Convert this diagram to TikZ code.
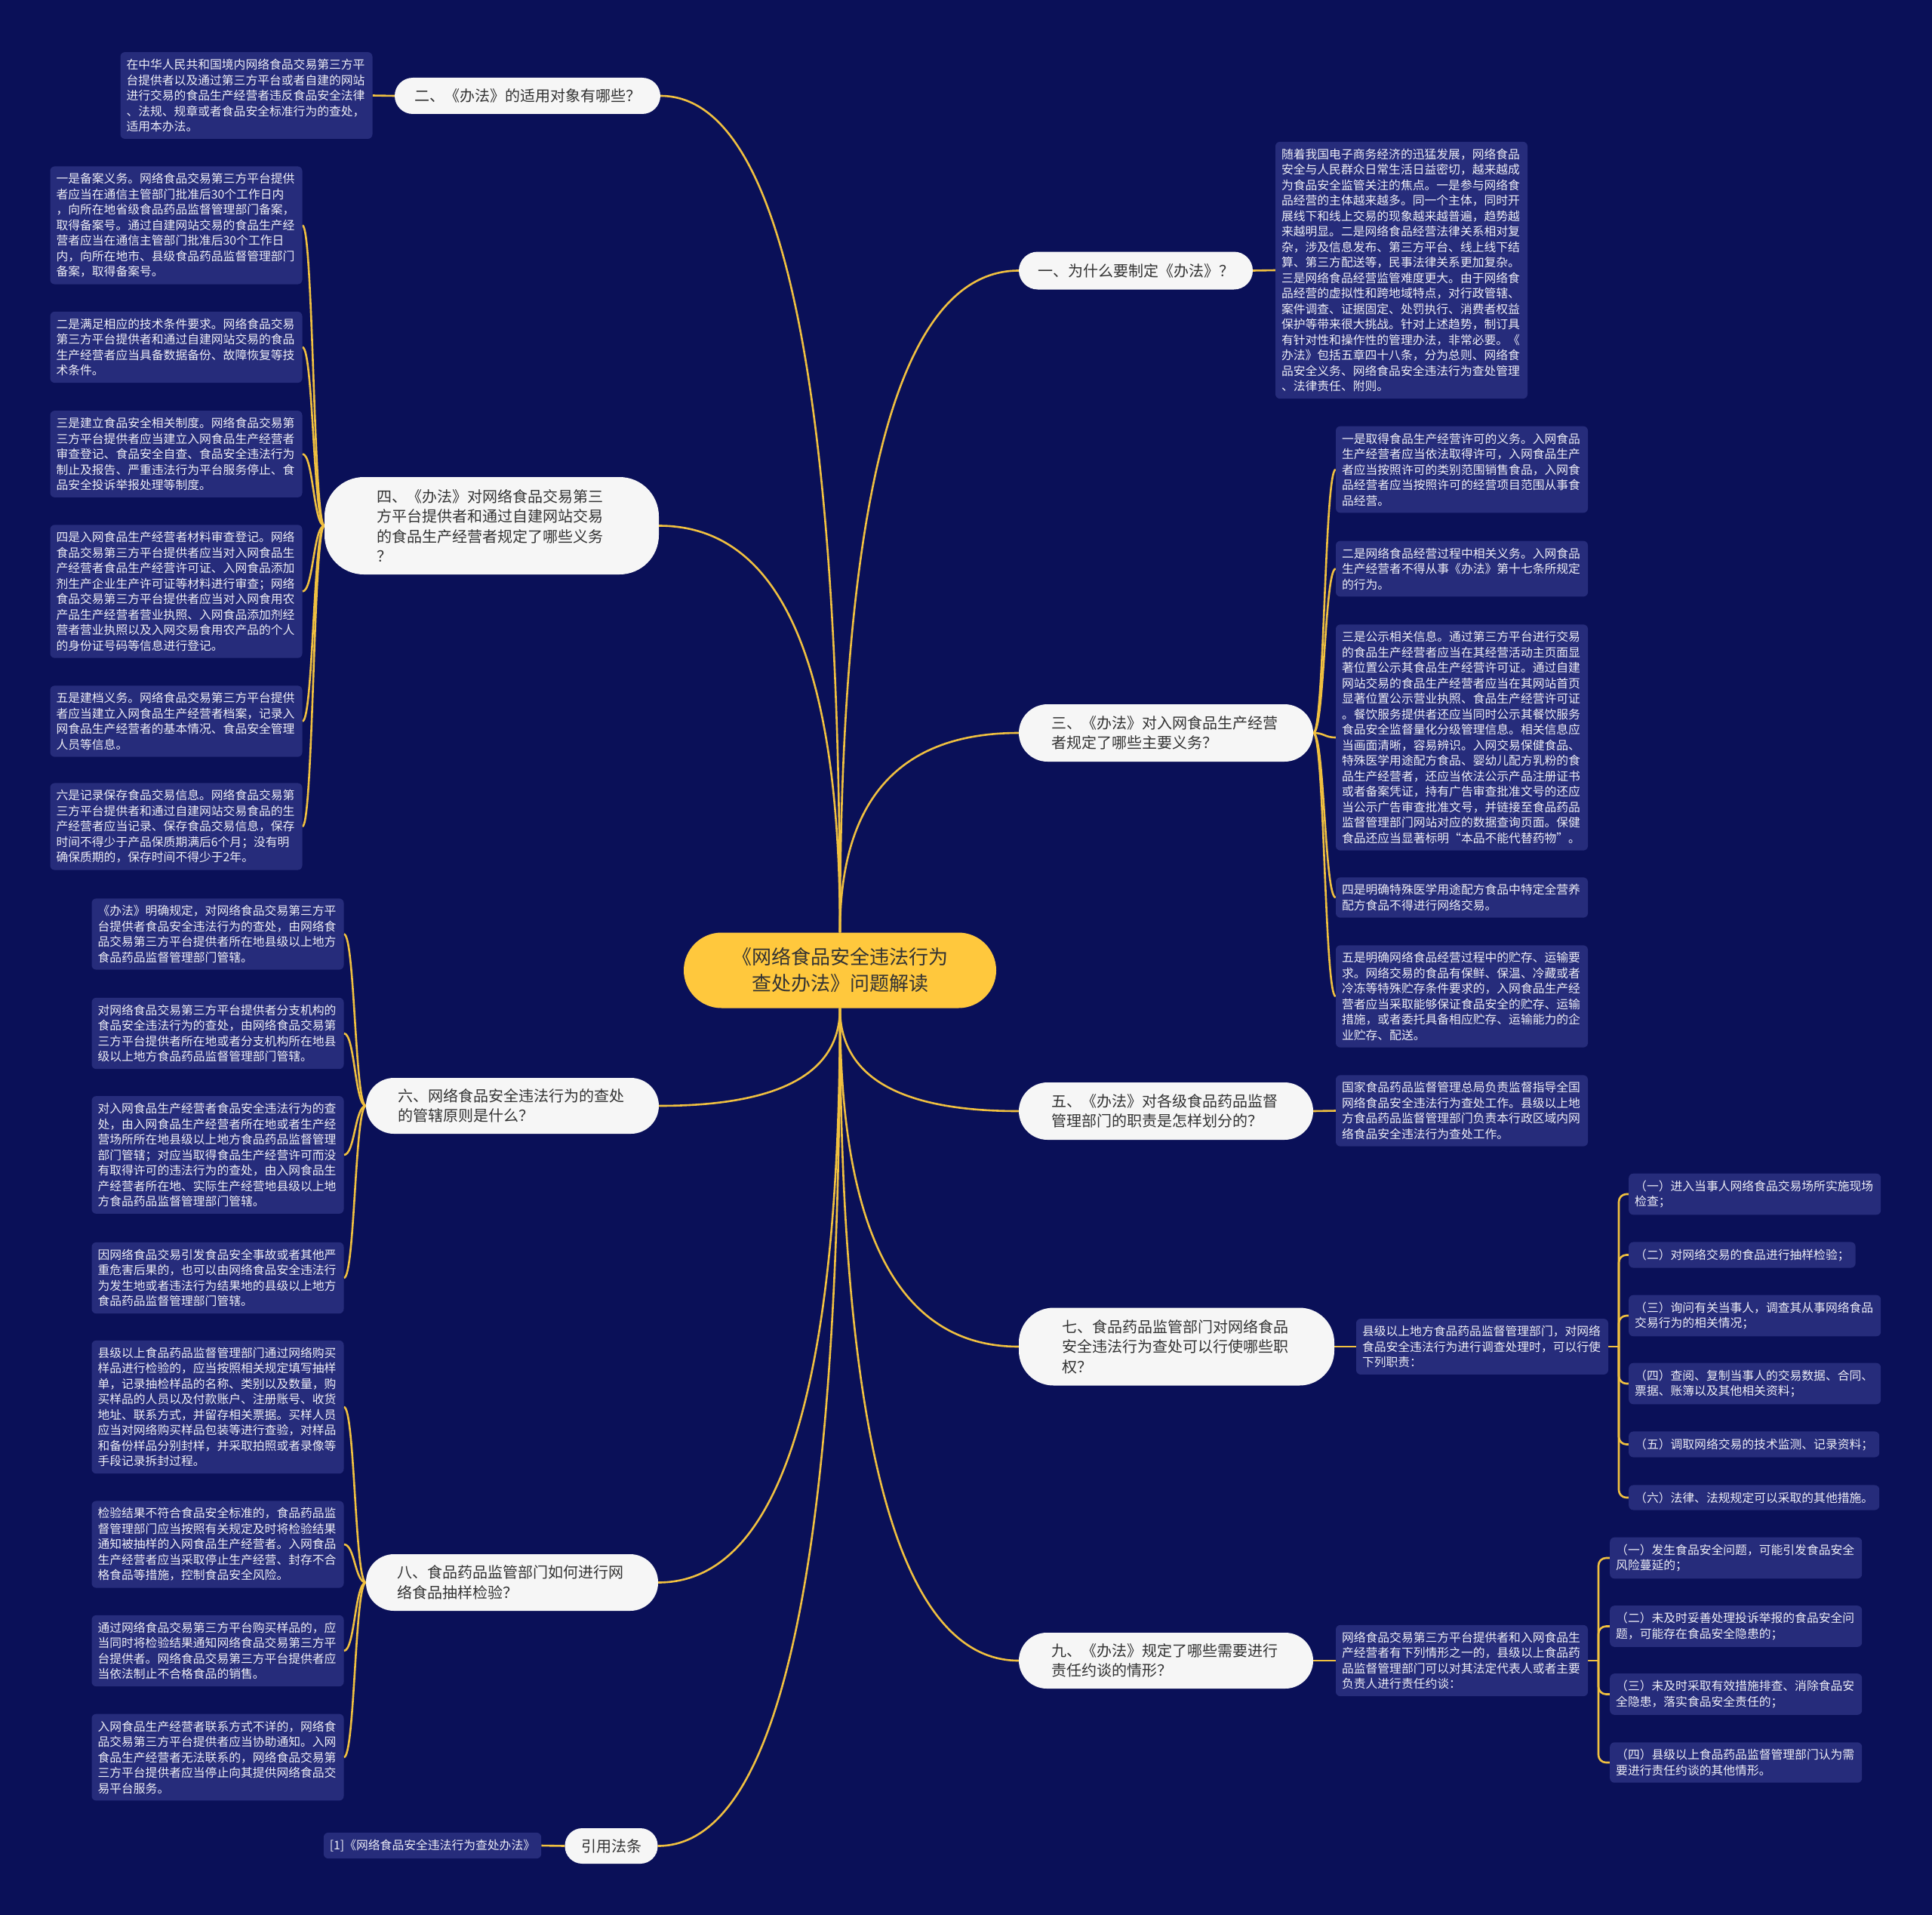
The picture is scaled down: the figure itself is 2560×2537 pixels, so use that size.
\documentclass[tikz,border=0pt]{standalone}
\usepackage{fontspec}
\setmainfont{Noto Sans CJK SC}
\usetikzlibrary{calc}
\definecolor{bgc}{HTML}{0A1058}
\definecolor{leafc}{HTML}{262C7B}
\definecolor{linec}{HTML}{F0C040}
\definecolor{pillc}{HTML}{F6F6F6}
\definecolor{pilltext}{HTML}{333333}
\definecolor{centerc}{HTML}{FFC83D}
\definecolor{leaftext}{HTML}{EEEEF6}
\pgfdeclarelayer{back}
\pgfdeclarelayer{edges}
\pgfsetlayers{back,edges,main}
\newcommand\qlink[2]{\draw[link] (#1) .. controls ($(#1)!0.667!(#1|-#2)$) and ($(#2)!0.667!(#1|-#2)$) .. (#2);}
\newcommand\slink[2]{\draw[link] (#1) .. controls ($(#1)!0.5!(#1-|#2)$) and ($(#2)!0.5!(#2-|#1)$) .. (#2);}
\newcommand\blink[2]{\draw[link,rounded corners=10pt] (#1) |- (#2);}
\tikzset{
 link/.style={draw=linec, line width=2.6pt},
 leaf/.style={fill=leafc, rounded corners=6pt, text=leaftext, align=left, inner xsep=8pt, inner ysep=9pt, font=\fontsize{15.8}{20.5}\selectfont},
 wleaf/.style={leaf, text width=318pt},
 pill/.style={fill=pillc, text=pilltext, align=left, inner sep=0pt, font=\fontsize{20}{26.5}\selectfont},
 mpill/.style={pill, text width=304pt},
 root/.style={fill=centerc, text=pilltext, align=center, inner sep=0pt, minimum width=414pt, minimum height=100pt, rounded corners=50pt, font=\fontsize{26}{35}\selectfont},
}
\begin{document}
\begin{tikzpicture}[x=1pt,y=-1pt]
\begin{pgfonlayer}{back}
\fill[bgc] (0,0) rectangle (2560,2537);
\end{pgfonlayer}
\useasboundingbox (0,0) rectangle (2560,2537);

% center
\node[root] (c) at (1113,1285.5) {《网络食品安全违法行为\\查处办法》问题解读};

% topics
\node[pill, minimum width=352pt, minimum height=48pt, rounded corners=24pt] (t2) at (699,127) {二、《办法》的适用对象有哪些？};
\node[pill, minimum width=310pt, minimum height=50pt, rounded corners=25pt] (t1) at (1505,358.5) {一、为什么要制定《办法》？};
\node[mpill, minimum width=443pt, minimum height=129pt, rounded corners=52pt] (t4) at (651.5,696.5) {四、《办法》对网络食品交易第三\\方平台提供者和通过自建网站交易\\的食品生产经营者规定了哪些义务\\？};
\node[mpill, minimum width=390pt, minimum height=76pt, rounded corners=38pt] (t3) at (1545,971) {三、《办法》对入网食品生产经营\\者规定了哪些主要义务？};
\node[mpill, minimum width=388pt, minimum height=74pt, rounded corners=37pt] (t6) at (679,1465) {六、网络食品安全违法行为的查处\\的管辖原则是什么？};
\node[mpill, minimum width=390pt, minimum height=76pt, rounded corners=38pt] (t5) at (1545,1472) {五、《办法》对各级食品药品监督\\管理部门的职责是怎样划分的？};
\node[mpill, minimum width=418pt, minimum height=103pt, rounded corners=46pt] (t7) at (1559,1784) {七、食品药品监管部门对网络食品\\安全违法行为查处可以行使哪些职\\权？};
\node[mpill, minimum width=387pt, minimum height=75pt, rounded corners=37pt] (t8) at (678.5,2096.5) {八、食品药品监管部门如何进行网\\络食品抽样检验？};
\node[mpill, minimum width=390pt, minimum height=74pt, rounded corners=37pt] (t9) at (1545,2200) {九、《办法》规定了哪些需要进行\\责任约谈的情形？};
\node[pill, minimum width=123pt, minimum height=47pt, rounded corners=23pt] (tr) at (810,2445.5) {引用法条};

% leaves of 二 and 一
\node[wleaf] (l2) at (326.5,126.5) {在中华人民共和国境内网络食品交易第三方平\\台提供者以及通过第三方平台或者自建的网站\\进行交易的食品生产经营者违反食品安全法律\\、法规、规章或者食品安全标准行为的查处，\\适用本办法。};
\node[wleaf] (l1) at (1857,358) {随着我国电子商务经济的迅猛发展，网络食品\\安全与人民群众日常生活日益密切，越来越成\\为食品安全监管关注的焦点。一是参与网络食\\品经营的主体越来越多。同一个主体，同时开\\展线下和线上交易的现象越来越普遍，趋势越\\来越明显。二是网络食品经营法律关系相对复\\杂，涉及信息发布、第三方平台、线上线下结\\算、第三方配送等，民事法律关系更加复杂。\\三是网络食品经营监管难度更大。由于网络食\\品经营的虚拟性和跨地域特点，对行政管辖、\\案件调查、证据固定、处罚执行、消费者权益\\保护等带来很大挑战。针对上述趋势，制订具\\有针对性和操作性的管理办法，非常必要。《\\办法》包括五章四十八条，分为总则、网络食\\品安全义务、网络食品安全违法行为查处管理\\、法律责任、附则。};

% leaves of 四
\node[wleaf] (l41) at (233.5,298.5) {一是备案义务。网络食品交易第三方平台提供\\者应当在通信主管部门批准后30个工作日内\\，向所在地省级食品药品监督管理部门备案，\\取得备案号。通过自建网站交易的食品生产经\\营者应当在通信主管部门批准后30个工作日\\内，向所在地市、县级食品药品监督管理部门\\备案，取得备案号。};
\node[wleaf] (l42) at (233.5,460) {二是满足相应的技术条件要求。网络食品交易\\第三方平台提供者和通过自建网站交易的食品\\生产经营者应当具备数据备份、故障恢复等技\\术条件。};
\node[wleaf] (l43) at (233.5,601.5) {三是建立食品安全相关制度。网络食品交易第\\三方平台提供者应当建立入网食品生产经营者\\审查登记、食品安全自查、食品安全违法行为\\制止及报告、严重违法行为平台服务停止、食\\品安全投诉举报处理等制度。};
\node[wleaf] (l44) at (233.5,783.5) {四是入网食品生产经营者材料审查登记。网络\\食品交易第三方平台提供者应当对入网食品生\\产经营者食品生产经营许可证、入网食品添加\\剂生产企业生产许可证等材料进行审查；网络\\食品交易第三方平台提供者应当对入网食用农\\产品生产经营者营业执照、入网食品添加剂经\\营者营业执照以及入网交易食用农产品的个人\\的身份证号码等信息进行登记。};
\node[wleaf] (l45) at (233.5,955.5) {五是建档义务。网络食品交易第三方平台提供\\者应当建立入网食品生产经营者档案，记录入\\网食品生产经营者的基本情况、食品安全管理\\人员等信息。};
\node[wleaf] (l46) at (233.5,1095) {六是记录保存食品交易信息。网络食品交易第\\三方平台提供者和通过自建网站交易食品的生\\产经营者应当记录、保存食品交易信息，保存\\时间不得少于产品保质期满后6个月；没有明\\确保质期的，保存时间不得少于2年。};

% leaves of 三
\node[wleaf] (l31) at (1937,622) {一是取得食品生产经营许可的义务。入网食品\\生产经营者应当依法取得许可，入网食品生产\\者应当按照许可的类别范围销售食品，入网食\\品经营者应当按照许可的经营项目范围从事食\\品经营。};
\node[wleaf] (l32) at (1937,753.5) {二是网络食品经营过程中相关义务。入网食品\\生产经营者不得从事《办法》第十七条所规定\\的行为。};
\node[wleaf] (l33) at (1937,977) {三是公示相关信息。通过第三方平台进行交易\\的食品生产经营者应当在其经营活动主页面显\\著位置公示其食品生产经营许可证。通过自建\\网站交易的食品生产经营者应当在其网站首页\\显著位置公示营业执照、食品生产经营许可证\\。餐饮服务提供者还应当同时公示其餐饮服务\\食品安全监督量化分级管理信息。相关信息应\\当画面清晰，容易辨识。入网交易保健食品、\\特殊医学用途配方食品、婴幼儿配方乳粉的食\\品生产经营者，还应当依法公示产品注册证书\\或者备案凭证，持有广告审查批准文号的还应\\当公示广告审查批准文号，并链接至食品药品\\监督管理部门网站对应的数据查询页面。保健\\食品还应当显著标明“本品不能代替药物”。};
\node[wleaf] (l34) at (1937,1189) {四是明确特殊医学用途配方食品中特定全营养\\配方食品不得进行网络交易。};
\node[wleaf] (l35) at (1937,1320) {五是明确网络食品经营过程中的贮存、运输要\\求。网络交易的食品有保鲜、保温、冷藏或者\\冷冻等特殊贮存条件要求的，入网食品生产经\\营者应当采取能够保证食品安全的贮存、运输\\措施，或者委托具备相应贮存、运输能力的企\\业贮存、配送。};

% leaf of 五
\node[wleaf] (l5) at (1937,1471.5) {国家食品药品监督管理总局负责监督指导全国\\网络食品安全违法行为查处工作。县级以上地\\方食品药品监督管理部门负责本行政区域内网\\络食品安全违法行为查处工作。};

% leaves of 六
\node[wleaf] (l61) at (288.5,1237.5) {《办法》明确规定，对网络食品交易第三方平\\台提供者食品安全违法行为的查处，由网络食\\品交易第三方平台提供者所在地县级以上地方\\食品药品监督管理部门管辖。};
\node[wleaf] (l62) at (288.5,1369) {对网络食品交易第三方平台提供者分支机构的\\食品安全违法行为的查处，由网络食品交易第\\三方平台提供者所在地或者分支机构所在地县\\级以上地方食品药品监督管理部门管辖。};
\node[wleaf] (l63) at (288.5,1530) {对入网食品生产经营者食品安全违法行为的查\\处，由入网食品生产经营者所在地或者生产经\\营场所所在地县级以上地方食品药品监督管理\\部门管辖；对应当取得食品生产经营许可而没\\有取得许可的违法行为的查处，由入网食品生\\产经营者所在地、实际生产经营地县级以上地\\方食品药品监督管理部门管辖。};
\node[wleaf] (l64) at (288.5,1693) {因网络食品交易引发食品安全事故或者其他严\\重危害后果的，也可以由网络食品安全违法行\\为发生地或者违法行为结果地的县级以上地方\\食品药品监督管理部门管辖。};

% 七
\node[wleaf] (m7) at (1964,1784) {县级以上地方食品药品监督管理部门，对网络\\食品安全违法行为进行调查处理时，可以行使\\下列职责：};
\coordinate (j7) at (2145,1784);
\node[wleaf, anchor=west] (l71) at (2158,1582) {（一）进入当事人网络食品交易场所实施现场\\检查；};
\node[leaf, anchor=west] (l72) at (2158,1662.5) {（二）对网络交易的食品进行抽样检验；};
\node[wleaf, anchor=west] (l73) at (2158,1743) {（三）询问有关当事人，调查其从事网络食品\\交易行为的相关情况；};
\node[wleaf, anchor=west] (l74) at (2158,1833) {（四）查阅、复制当事人的交易数据、合同、\\票据、账簿以及其他相关资料；};
\node[leaf, anchor=west] (l75) at (2158,1913.5) {（五）调取网络交易的技术监测、记录资料；};
\node[leaf, anchor=west] (l76) at (2158,1984) {（六）法律、法规规定可以采取的其他措施。};

% leaves of 八
\node[wleaf] (l81) at (288.5,1864) {县级以上食品药品监督管理部门通过网络购买\\样品进行检验的，应当按照相关规定填写抽样\\单，记录抽检样品的名称、类别以及数量，购\\买样品的人员以及付款账户、注册账号、收货\\地址、联系方式，并留存相关票据。买样人员\\应当对网络购买样品包装等进行查验，对样品\\和备份样品分别封样，并采取拍照或者录像等\\手段记录拆封过程。};
\node[wleaf] (l82) at (288.5,2046) {检验结果不符合食品安全标准的，食品药品监\\督管理部门应当按照有关规定及时将检验结果\\通知被抽样的入网食品生产经营者。入网食品\\生产经营者应当采取停止生产经营、封存不合\\格食品等措施，控制食品安全风险。};
\node[wleaf] (l83) at (288.5,2187) {通过网络食品交易第三方平台购买样品的，应\\当同时将检验结果通知网络食品交易第三方平\\台提供者。网络食品交易第三方平台提供者应\\当依法制止不合格食品的销售。};
\node[wleaf] (l84) at (288.5,2328) {入网食品生产经营者联系方式不详的，网络食\\品交易第三方平台提供者应当协助通知。入网\\食品生产经营者无法联系的，网络食品交易第\\三方平台提供者应当停止向其提供网络食品交\\易平台服务。};

% 九
\node[wleaf] (m9) at (1937,2200) {网络食品交易第三方平台提供者和入网食品生\\产经营者有下列情形之一的，县级以上食品药\\品监督管理部门可以对其法定代表人或者主要\\负责人进行责任约谈：};
\coordinate (j9) at (2118,2200);
\node[wleaf, anchor=west] (l91) at (2133,2064) {（一）发生食品安全问题，可能引发食品安全\\风险蔓延的；};
\node[wleaf, anchor=west] (l92) at (2133,2154.5) {（二）未及时妥善处理投诉举报的食品安全问\\题，可能存在食品安全隐患的；};
\node[wleaf, anchor=west] (l93) at (2133,2244.5) {（三）未及时采取有效措施排查、消除食品安\\全隐患，落实食品安全责任的；};
\node[wleaf, anchor=west] (l94) at (2133,2335) {（四）县级以上食品药品监督管理部门认为需\\要进行责任约谈的其他情形。};

% 引用
\node[leaf] (lr) at (573,2445) {[1]《网络食品安全违法行为查处办法》};

\begin{pgfonlayer}{edges}
\qlink{c.north}{t2.east}
\qlink{c.north}{t1.west}
\qlink{c.north}{t4.east}
\qlink{c.north}{t3.west}
\qlink{c.south}{t6.east}
\qlink{c.south}{t5.west}
\qlink{c.south}{t7.west}
\qlink{c.south}{t8.east}
\qlink{c.south}{t9.west}
\qlink{c.south}{tr.east}
\slink{t2.west}{l2.east}
\slink{t1.east}{l1.west}
\slink{t4.west}{l41.east}
\slink{t4.west}{l42.east}
\slink{t4.west}{l43.east}
\slink{t4.west}{l44.east}
\slink{t4.west}{l45.east}
\slink{t4.west}{l46.east}
\slink{t3.east}{l31.west}
\slink{t3.east}{l32.west}
\slink{t3.east}{l33.west}
\slink{t3.east}{l34.west}
\slink{t3.east}{l35.west}
\slink{t5.east}{l5.west}
\slink{t6.west}{l61.east}
\slink{t6.west}{l62.east}
\slink{t6.west}{l63.east}
\slink{t6.west}{l64.east}
\slink{t8.west}{l81.east}
\slink{t8.west}{l82.east}
\slink{t8.west}{l83.east}
\slink{t8.west}{l84.east}
\slink{tr.west}{lr.east}
\draw[link] (t7.east) -- (m7.west);
\draw[link] (m7.east) -- (j7);
\blink{j7}{l71.west}
\blink{j7}{l72.west}
\blink{j7}{l73.west}
\blink{j7}{l74.west}
\blink{j7}{l75.west}
\blink{j7}{l76.west}
\draw[link] (t9.east) -- (m9.west);
\draw[link] (m9.east) -- (j9);
\blink{j9}{l91.west}
\blink{j9}{l92.west}
\blink{j9}{l93.west}
\blink{j9}{l94.west}
\end{pgfonlayer}
\end{tikzpicture}
\end{document}
